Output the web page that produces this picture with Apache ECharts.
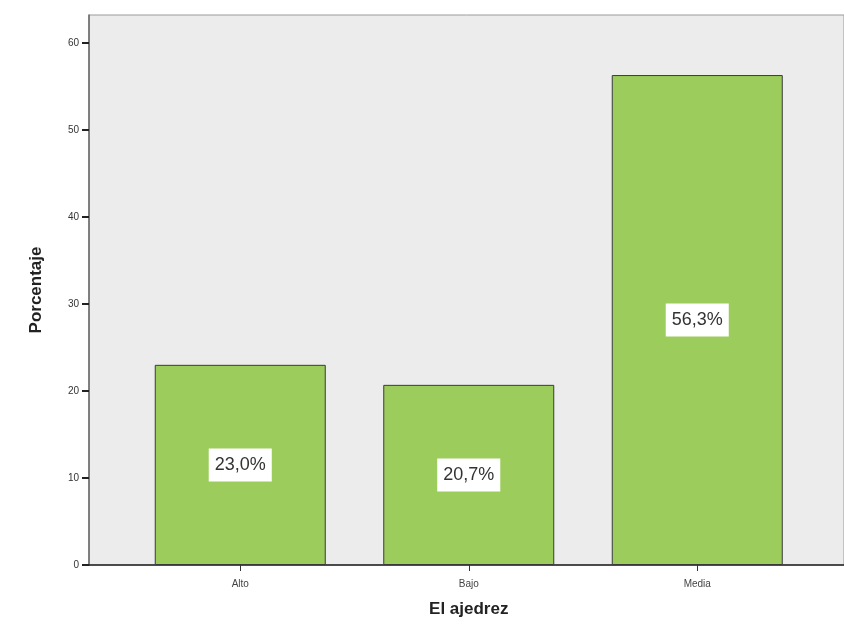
<!DOCTYPE html>
<html>
<head>
<meta charset="utf-8">
<script src="https://cdn.jsdelivr.net/npm/echarts@6/dist/echarts.min.js"></script>
<style>
html,body{margin:0;padding:0;background:#fff;}
#c{width:844px;height:637px;}
</style>
</head>
<body>
<div id="c"></div>
<script>
const categories = ['Alto', 'Bajo', 'Media'];
const percentages = [23.0, 20.7, 56.3];
const yTicks = [0, 10, 20, 30, 40, 50, 60];
const yMax = 63.2;

const chart = echarts.init(document.getElementById('c'), null, {renderer: 'canvas'});
const option = {
  animation: false,
  backgroundColor: '#ffffff',
  grid: [
    {left: 89, top: 15, width: 759, bottom: 72, show: true, backgroundColor: '#ececec', borderColor: '#9a9a9a', borderWidth: 1},
    {left: 126, top: 15, width: 685.5, bottom: 72}
  ],
  xAxis: [
    {gridIndex: 0, type: 'value', min: 0, max: 1,
     axisLine: {show: true, onZero: false, lineStyle: {color: '#222', width: 1.5}},
     axisTick: {show: false}, axisLabel: {show: false}, splitLine: {show: false}},
    {gridIndex: 1, type: 'category', data: categories,
     axisLine: {show: false},
     axisTick: {show: true, alignWithLabel: true, length: 6, lineStyle: {color: '#333'}},
     axisLabel: {color: '#444', fontSize: 10, margin: 14, fontFamily: 'Liberation Sans'},
     name: 'El ajedrez', nameLocation: 'middle', nameGap: 36,
     nameTextStyle: {fontSize: 17, fontWeight: 'bold', color: '#222', fontFamily: 'Liberation Sans'}},
  ],
  yAxis: [
    {gridIndex: 0, type: 'value', min: 0, max: yMax, interval: 10,
     axisLine: {show: true, lineStyle: {color: '#666', width: 1.5}},
     axisTick: {show: true, length: 7, customValues: yTicks, lineStyle: {color: '#222', width: 2}},
     axisLabel: {customValues: yTicks, color: '#333', fontSize: 10, margin: 10, fontFamily: 'Liberation Sans'},
     splitLine: {show: false},
     name: 'Porcentaje', nameLocation: 'middle', nameGap: 44,
     nameTextStyle: {fontSize: 17, fontWeight: 'bold', color: '#222', fontFamily: 'Liberation Sans'}},
    {gridIndex: 1, type: 'value', min: 0, max: yMax, show: false}
  ],
  series: [{
    type: 'bar', xAxisIndex: 1, yAxisIndex: 1,
    data: percentages, barWidth: 171,
    itemStyle: {color: '#9ccd5c', borderColor: '#3a3a3a', borderWidth: 1},
    label: {
      show: true, position: 'inside',
      formatter: p => p.value.toFixed(1).replace('.', ',') + '%',
      backgroundColor: '#ffffff', padding: [8, 6, 7, 6],
      color: '#333', fontSize: 18, fontFamily: 'Liberation Sans'
    }
  }]
};
chart.setOption(option);
</script>
</body>
</html>
